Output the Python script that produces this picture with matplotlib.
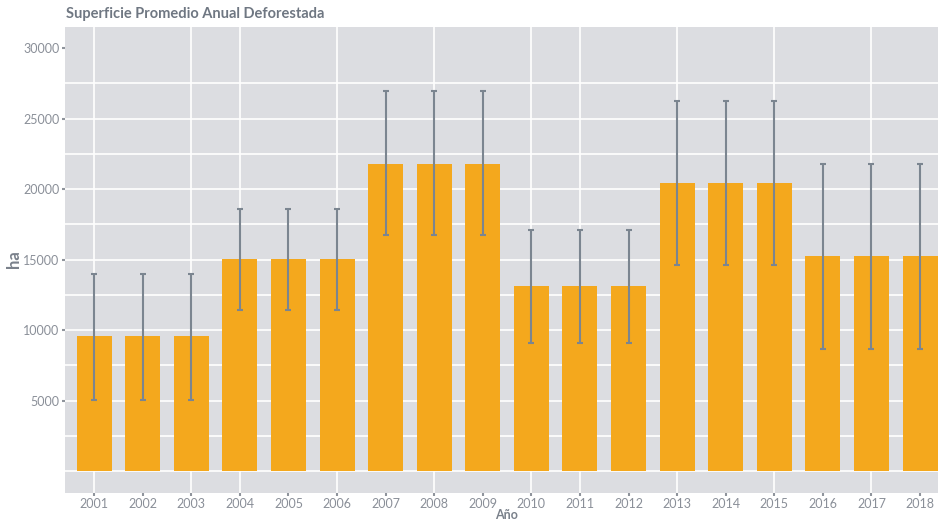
import matplotlib.pyplot as plt

# Data
years = list(range(2001, 2019))
area = [9590, 9590, 9590, 15050, 15050, 15050, 21780, 21780, 21780,
        13130, 13130, 13130, 20430, 20430, 20430, 15230, 15230, 15230]
err_high = [14000, 14000, 14000, 18570, 18570, 18570, 26950, 26950, 26950,
            17080, 17080, 17080, 26220, 26220, 26220, 21760, 21760, 21760]
err_low = [5050, 5050, 5050, 11450, 11450, 11450, 16720, 16720, 16720,
           9110, 9110, 9110, 14620, 14620, 14620, 8670, 8670, 8670]
grid_years = [2001, 2003, 2004, 2006, 2008, 2010, 2011, 2013, 2015, 2017]
y_ticks = [5000, 10000, 15000, 20000, 25000, 30000]

plt.rcParams['font.family'] = ['Lato', 'DejaVu Sans']

fig = plt.figure(figsize=(9.38, 5.21), dpi=100)
ax = fig.add_axes([65 / 938, 1 - 492.7 / 521, (938 - 65) / 938, (492.7 - 27) / 521])
ax.set_facecolor('#dcdde1')

# Grid lines (drawn under bars)
for v in range(0, 30000, 2500):
     ax.axhline(v, color='white', lw=1.2, zorder=1)
for g in grid_years:
     ax.axvline(g, color='white', lw=1.2, zorder=1)

ax.bar(years, area, width=0.72, color='#f4a81d', zorder=2)

lower = [a - l for a, l in zip(area, err_low)]
upper = [h - a for a, h in zip(area, err_high)]
ax.errorbar(years, area, yerr=[lower, upper], fmt='none', ecolor='#7b8590',
            elinewidth=1.5, capsize=2.2, capthick=1.5, zorder=3)

ax.set_xlim(2000.40, 2018.37)
ax.set_ylim(-1517, 31488)

ax.set_xticks(years)
ax.set_xticklabels([str(y) for y in years])
ax.set_yticks(y_ticks)
ax.tick_params(axis='both', colors='#8f949c', labelsize=9, length=2, width=1.5, pad=2)
ax.tick_params(axis='x', labelcolor='#8a8f98')
ax.tick_params(axis='y', labelcolor='#8a8f98')
for s in ax.spines.values():
     s.set_visible(False)

# Axis titles placed in figure coords so they stay inside the canvas
fig.text(14 / 938, 1 - 259 / 521, 'ha', fontsize=12, fontweight='bold', color='#7a818b',
         rotation=90, ha='center', va='center')
fig.text(506 / 938, 1 - 515 / 521, 'Año', fontsize=9, fontweight='bold', color='#7a818b',
         ha='center', va='center')

fig.text(66 / 938, 1 - 14 / 521, 'Superficie Promedio Anual Deforestada', fontsize=10.5,
         fontweight='bold', color='#6f7782', va='center', ha='left')

fig.savefig('out.png', dpi=100)
